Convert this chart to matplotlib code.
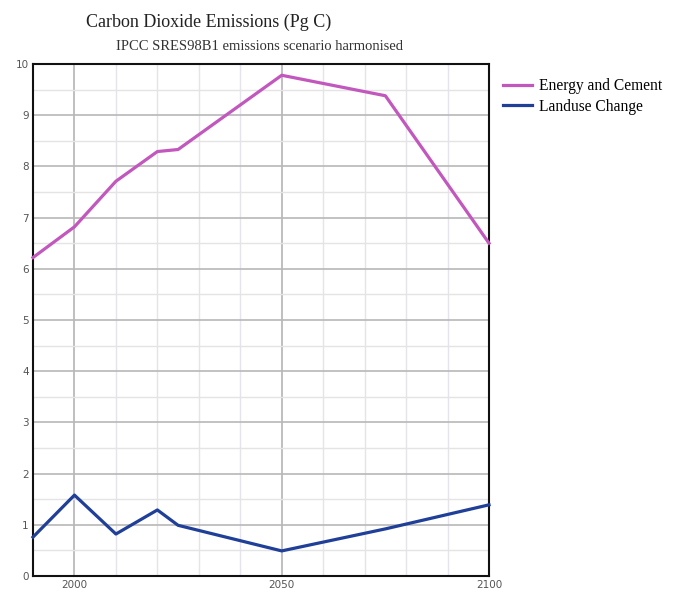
import matplotlib.pyplot as plt
import numpy as np

# data
years_energy = [1990, 2000, 2010, 2020, 2025, 2050, 2075, 2100]
energy_cement = [6.22, 6.82, 7.71, 8.29, 8.33, 9.78, 9.38, 6.5]

years_landuse = [1990, 2000, 2010, 2020, 2025, 2050, 2075, 2100]
landuse_change = [0.76, 1.58, 0.82, 1.29, 0.99, 0.49, 0.92, 1.39]

serif = 'Liberation Serif'

fig = plt.figure(figsize=(6.8, 5.93), dpi=100)
ax = fig.add_axes([33 / 680, 17 / 593, 456 / 680, 512 / 593])

# grid: minor every 10 years / 0.5, major every 50 years / 1
for x in range(2000, 2100, 10):
    if x % 50 == 0:
        ax.axvline(x, color='#b4b4b8', lw=1.2, zorder=1)
    else:
        ax.axvline(x, color='#e4e4ea', lw=1.0, zorder=1)
for y in np.arange(0.5, 10, 0.5):
    if y == int(y):
        ax.axhline(y, color='#b8b8b8', lw=1.2, zorder=1)
    else:
        ax.axhline(y, color='#e4e4e4', lw=1.0, zorder=1)

ax.plot(years_energy, energy_cement, color='#c257bd', lw=2.3,
        label='Energy and Cement', zorder=3, clip_on=False)
ax.plot(years_landuse, landuse_change, color='#1f3f98', lw=2.3,
        label='Landuse Change', zorder=3, clip_on=False)

ax.set_xlim(1990, 2100)
ax.set_ylim(0, 10)
ax.set_xticks([2000, 2050, 2100])
ax.set_yticks(range(0, 11))
ax.tick_params(length=0, labelsize=7.5, labelcolor='#555555', pad=3)
for s in ax.spines.values():
    s.set_linewidth(1.5)
    s.set_color('#111111')

fig.text(209 / 680, 1 - 22 / 593, 'Carbon Dioxide Emissions (Pg C)',
         family=serif, fontsize=13, ha='center', va='center', color='#222222')
fig.text(260 / 680, 1 - 47 / 593, 'IPCC SRES98B1 emissions scenario harmonised',
         family=serif, fontsize=10.5, ha='center', va='center', color='#333333')

ax.legend(loc='upper left', bbox_to_anchor=(1.0, 1.0), frameon=False,
          prop={'family': serif, 'size': 11.2}, handlelength=1.85,
          handletextpad=0.45, labelspacing=0.3, borderaxespad=0.5)

fig.savefig('out.png', dpi=100)
